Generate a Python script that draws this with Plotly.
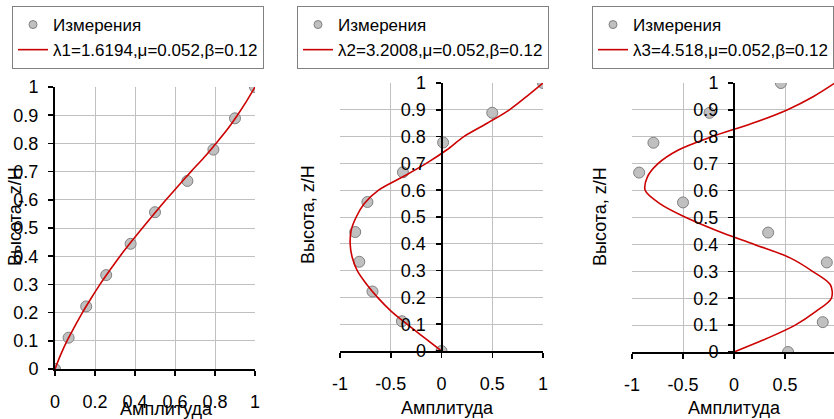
import plotly.graph_objects as go

# ---- data ----
z_meas = [0, 0.111, 0.222, 0.333, 0.444, 0.556, 0.667, 0.778, 0.889, 1.0]
amp1_meas = [0, 0.068, 0.156, 0.256, 0.378, 0.50, 0.662, 0.792, 0.90, 1.0]
amp2_meas = [0, -0.39, -0.68, -0.81, -0.85, -0.73, -0.38, 0.016, 0.50, 1.0]
amp3_meas = [0.53, 0.87, 1.05, 0.91, 0.335, -0.50, -0.93, -0.79, -0.24, 0.46]

z_fit = [0, 0.05, 0.1, 0.15, 0.2, 0.25, 0.3, 0.35, 0.4, 0.45, 0.5,
         0.55, 0.6, 0.65, 0.7, 0.75, 0.8, 0.85, 0.9, 0.95, 1.0]
amp1_fit = [0, 0.028, 0.06, 0.098, 0.137, 0.18, 0.225, 0.274, 0.325, 0.38, 0.437,
            0.495, 0.555, 0.617, 0.68, 0.745, 0.805, 0.862, 0.912, 0.958, 1.0]
amp2_fit = [0, -0.17, -0.34, -0.50, -0.63, -0.74, -0.83, -0.88, -0.90, -0.89, -0.84,
            -0.76, -0.62, -0.38, -0.15, 0.05, 0.22, 0.45, 0.67, 0.84, 1.0]
amp3_fit = [0, 0.32, 0.60, 0.80, 0.955, 0.945, 0.77, 0.55, 0.20, -0.16, -0.47,
            -0.72, -0.87, -0.85, -0.745, -0.55, -0.22, 0.18, 0.52, 0.78, 0.99]

meas_name = "Измерения"
fit_names = ["λ1=1.6194,μ=0.052,β=0.12",
             "λ2=3.2008,μ=0.052,β=0.12",
             "λ3=4.518,μ=0.052,β=0.12"]
x_title = "Амплитуда"
y_title = "Высота, z/H"

y_ticks = [0, 0.1, 0.2, 0.3, 0.4, 0.5, 0.6, 0.7, 0.8, 0.9, 1]
y_ticktext = ["0", "0.1", "0.2", "0.3", "0.4", "0.5", "0.6", "0.7", "0.8", "0.9", "1"]
x1_ticks = [0, 0.2, 0.4, 0.6, 0.8, 1]
x1_ticktext = ["0", "0.2", "0.4", "0.6", "0.8", "1"]
x23_ticks = [-1, -0.5, 0, 0.5, 1]
x23_ticktext = ["-1", "-0.5", "0", "0.5", "1"]

W, H = 834, 419
FONT = "Liberation Sans, Arial, sans-serif"
GRID = "#c0c0c0"
RED = "#cc0000"
MFILL = "#c0c0c0"
MEDGE = "#808080"

fig = go.Figure()

panels = [
    dict(meas=amp1_meas, fit=amp1_fit, name=fit_names[0], legend="legend"),
    dict(meas=amp2_meas, fit=amp2_fit, name=fit_names[1], legend="legend2"),
    dict(meas=amp3_meas, fit=amp3_fit, name=fit_names[2], legend="legend3"),
]
for i, p in enumerate(panels):
    sfx = "" if i == 0 else str(i + 1)
    # legend-only entry with a small marker (as in the reference legend)
    fig.add_trace(go.Scatter(
        x=[None], y=[None], mode="markers", name=meas_name,
        marker=dict(size=8, color=MFILL, line=dict(color=MEDGE, width=1)),
        xaxis="x" + sfx, yaxis="y" + sfx, legend=p["legend"], showlegend=True))
    fig.add_trace(go.Scatter(
        x=p["meas"], y=z_meas, mode="markers", name=meas_name,
        marker=dict(size=11, color=MFILL, line=dict(color=MEDGE, width=1)),
        xaxis="x" + sfx, yaxis="y" + sfx, legend=p["legend"], showlegend=False))
    fig.add_trace(go.Scatter(
        x=p["fit"], y=z_fit, mode="lines", name=p["name"],
        line=dict(color=RED, width=1.6, shape="spline", smoothing=0.9),
        xaxis="x" + sfx, yaxis="y" + sfx, legend=p["legend"]))

# domains (paper)
d1x = [55 / W, 255 / W]
d1y = [1 - 369 / H, 1 - 87 / H]
d2x = [340 / W, 543 / W]
d2y = [1 - 351 / H, 1 - 83 / H]
d3x = [632 / W, 1.0]
d3y = [1 - 352 / H, 1 - 83 / H]
r3 = [-1, -1 + 2 * (834 - 632) / (836 - 632)]

def zero_pos(dom, rng):
    return dom[0] + (0 - rng[0]) / (rng[1] - rng[0]) * (dom[1] - dom[0])

tickfont = dict(family=FONT, size=18, color="black")
common_x = dict(showgrid=True, gridcolor=GRID, gridwidth=1, zeroline=False,
                showline=True, linecolor="black", linewidth=2,
                ticks="outside", ticklen=5, tickwidth=1.5, tickcolor="black",
                tickfont=tickfont, ticklabelstandoff=10, fixedrange=True)
common_y = dict(showgrid=True, gridcolor=GRID, gridwidth=1, zeroline=False,
                showline=True, linecolor="black", linewidth=2,
                ticks="outside", ticklen=5, tickwidth=1.5, tickcolor="black",
                tickfont=tickfont, ticklabelstandoff=6, fixedrange=True,
                tickmode="array", tickvals=y_ticks, ticktext=y_ticktext)

fig.update_layout(
    xaxis=dict(domain=d1x, range=[0, 1], anchor="y", tickmode="array",
               tickvals=x1_ticks, ticktext=x1_ticktext, **common_x),
    yaxis=dict(domain=d1y, range=[0, 1], anchor="x", **common_y),
    xaxis2=dict(domain=d2x, range=[-1, 1], anchor="y2", tickmode="array",
                tickvals=x23_ticks, ticktext=x23_ticktext, **common_x),
    yaxis2=dict(domain=d2y, range=[0, 1], anchor="free",
                position=zero_pos(d2x, [-1, 1]), **common_y),
    xaxis3=dict(domain=d3x, range=r3, anchor="y3", tickmode="array",
                tickvals=x23_ticks, ticktext=x23_ticktext, **common_x),
    yaxis3=dict(domain=d3y, range=[0, 1], anchor="free",
                position=zero_pos(d3x, r3), **common_y),
)

legend_common = dict(font=dict(family=FONT, size=17, color="black"),
                     bgcolor="white", bordercolor="#808080", borderwidth=1,
                     yanchor="top", tracegroupgap=0, itemsizing="trace")
fig.update_layout(
    legend=dict(x=12 / W, xanchor="left", y=1 - 6 / H, **legend_common),
    legend2=dict(x=297 / W, xanchor="left", y=1 - 6 / H, **legend_common),
    legend3=dict(x=1.0, xanchor="right", y=1 - 6 / H, **legend_common),
)

ann_font = dict(family=FONT, size=18, color="black")
annotations = [
    dict(text=x_title, x=166 / W, y=1 - 409 / H),
    dict(text=x_title, x=447 / W, y=1 - 408 / H),
    dict(text=x_title, x=734 / W, y=1 - 408 / H),
    dict(text=y_title, x=15 / W, y=1 - 217 / H, textangle=-90),
    dict(text=y_title, x=308 / W, y=1 - 215 / H, textangle=-90),
    dict(text=y_title, x=600 / W, y=1 - 217 / H, textangle=-90),
]
for a in annotations:
    a.update(xref="paper", yref="paper", xanchor="center", yanchor="middle",
             showarrow=False, font=ann_font)
fig.update_layout(annotations=annotations)

fig.update_layout(width=W, height=H, margin=dict(l=0, r=0, t=0, b=0, autoexpand=False),
                  paper_bgcolor="white", plot_bgcolor="white", showlegend=True,
                  hovermode=False)

fig.write_html("out.html",
               config={"displayModeBar": False, "staticPlot": True},
               post_script="document.body.style.margin='0px';document.body.style.overflow='hidden';")
